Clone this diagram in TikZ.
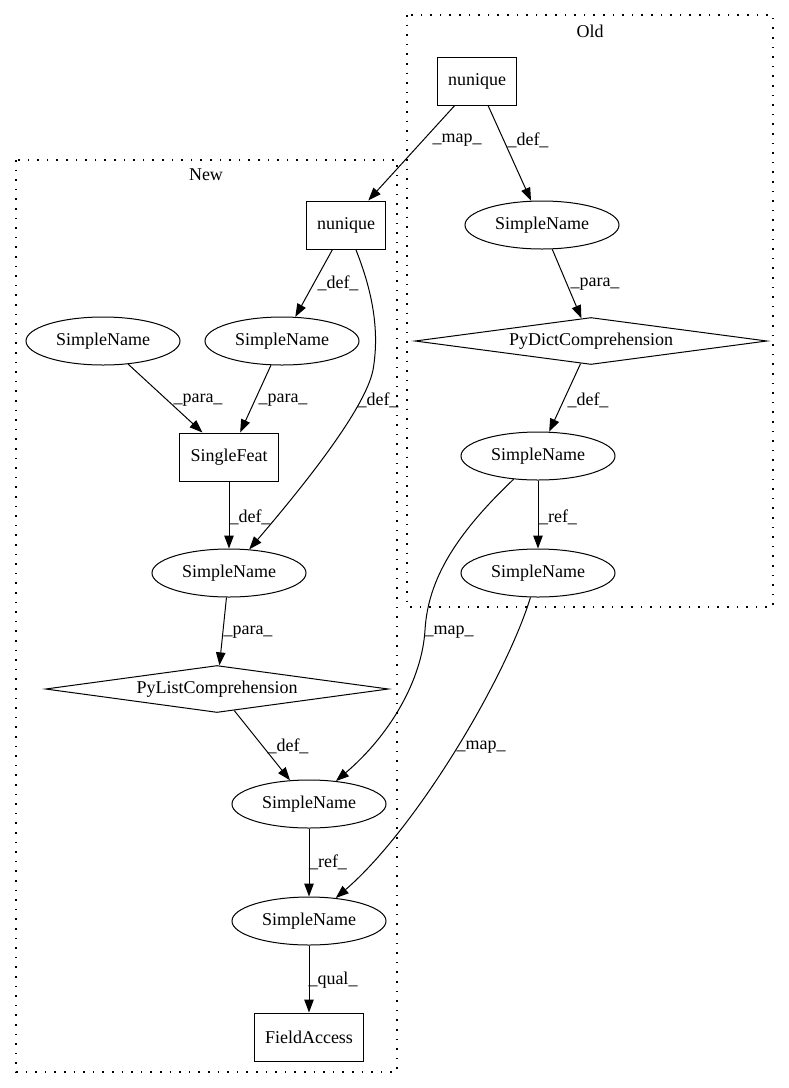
\documentclass[tikz,border=0pt]{standalone}
\usepackage{fontspec}
\setmainfont{Liberation Serif}
\usetikzlibrary{arrows.meta}
\usetikzlibrary{shapes.geometric}

\begin{document}
\begin{tikzpicture}[x=1pt, y=-1pt,
	every node/.style={font=\fontsize{18}{22}\selectfont},
	box/.style={draw, line width=1pt, rectangle, inner xsep=11pt, minimum height=48pt},
	oval/.style={draw, line width=1pt, ellipse, inner sep=0pt, minimum width=154pt, minimum height=48pt},
	rhomb/.style={draw, line width=1pt, diamond, aspect=7, inner sep=0pt, minimum height=47pt},
	flow/.style={line width=1pt, -{Triangle[length=13pt, width=9.5pt]}},
	cluster/.style={line width=1.2pt, dash pattern=on 1.6pt off 8pt},
	lbl/.style={inner sep=0pt}
]

	\def\W{789} %picture width
	\def\H{1088} %picture height
	\useasboundingbox (0,0) rectangle (\W,\H);

	%cluster boxes
	\draw[cluster] (407,15) rectangle (773,607);
	\node[lbl] (oldTitle) at (590,31) {Old};
	\draw[cluster] (16,160) rectangle (397,1072);
	\node[lbl] (newTitle) at (206,175) {New};

	%old nodes
	\node[box] (oldNunique) at (477,81) {nunique};
	\node[oval] (oldName1) at (542,225) {SimpleName};
	\node[rhomb, minimum width=352pt] (dictComp) at (591,341) {PyDictComprehension};
	\node[oval] (oldName2) at (538,456) {SimpleName};
	\node[oval] (oldName3) at (538,573) {SimpleName};

	%new nodes
	\node[box] (newNunique) at (346,225) {nunique};
	\node[oval] (newName1) at (103,341) {SimpleName};
	\node[oval] (newName2) at (282,341) {SimpleName};
	\node[box] (singleFeat) at (229,457) {SingleFeat};
	\node[oval] (newName3) at (229,573) {SimpleName};
	\node[rhomb, minimum width=343pt] (listComp) at (217,689) {PyListComprehension};
	\node[oval] (newName4) at (309,804) {SimpleName};
	\node[oval] (newName5) at (309,921) {SimpleName};
	\node[box] (fieldAccess) at (309,1037) {FieldAccess};

	%edge drawings
	\draw[flow] (oldNunique) -- (newNunique);
	\node[lbl] (lMap1) at (457,140) {\_map\_};
	\draw[flow] (oldNunique) -- (oldName1);
	\node[lbl] (lDef1) at (528,140) {\_def\_};
	\draw[flow] (oldName1) -- (dictComp);
	\node[lbl] (lPara1) at (595,284) {\_para\_};
	\draw[flow] (dictComp) -- (oldName2);
	\node[lbl] (lDef2) at (588,400) {\_def\_};
	\draw[flow] (oldName2) -- (oldName3);
	\node[lbl] (lRef1) at (558,517) {\_ref\_};
	\draw[flow] (oldName2) .. controls (455,535) and (428,580) .. (425,630) .. controls (422,680) and (390,735) .. (newName4);
	\node[lbl] (lMap2) at (449,632) {\_map\_};
	\draw[flow] (oldName3) .. controls (505,680) and (415,830) .. (newName5);
	\node[lbl] (lMap3) at (481,747) {\_map\_};

	\draw[flow] (newNunique) -- (newName2);
	\node[lbl] (lDef3) at (338,283) {\_def\_};
	\draw[flow] (newNunique) .. controls (372,290) and (380,330) .. (373,370) .. controls (365,410) and (300,490) .. (newName3);
	\node[lbl] (lDef4) at (378,400) {\_def\_};
	\draw[flow] (newName1) -- (singleFeat);
	\node[lbl] (lPara2) at (198,400) {\_para\_};
	\draw[flow] (newName2) -- (singleFeat);
	\node[lbl] (lPara3) at (283,400) {\_para\_};
	\draw[flow] (singleFeat) -- (newName3);
	\node[lbl] (lDef5) at (250,517) {\_def\_};
	\draw[flow] (newName3) -- (listComp);
	\node[lbl] (lPara4) at (248,632) {\_para\_};
	\draw[flow] (listComp) -- (newName4);
	\node[lbl] (lDef6) at (288,746) {\_def\_};
	\draw[flow] (newName4) -- (newName5);
	\node[lbl] (lRef2) at (328,862) {\_ref\_};
	\draw[flow] (newName5) -- (fieldAccess);
	\node[lbl] (lQual) at (333,980) {\_qual\_};

\end{tikzpicture}
\end{document}
